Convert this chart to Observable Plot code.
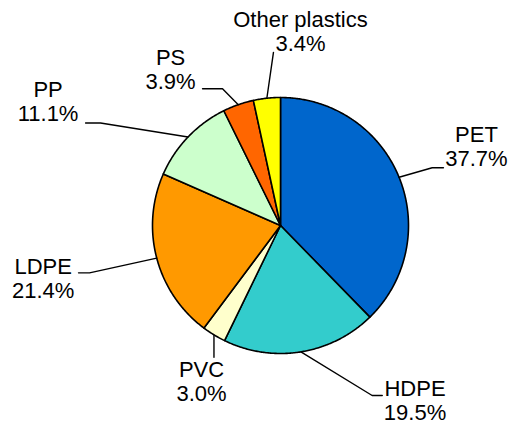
<!DOCTYPE html>
<html>
<head>
<meta charset="utf-8">
<script src="https://cdn.jsdelivr.net/npm/d3@7"></script>
<script src="https://cdn.jsdelivr.net/npm/@observablehq/plot@0.6"></script>
<style>
  html, body { margin: 0; padding: 0; background: #fff; }
  #chart { width: 508px; height: 425px; }
</style>
</head>
<body>
<div id="chart"></div>
<script>
// ---- data ----
const categories = ["PET", "HDPE", "PVC", "LDPE", "PP", "PS", "Other plastics"];
const shares = [37.7, 19.5, 3.0, 21.4, 11.1, 3.9, 3.4];
const pctLabels = ["37.7%", "19.5%", "3.0%", "21.4%", "11.1%", "3.9%", "3.4%"];
const colors = ["#0066CC", "#33CCCC", "#FFFFCC", "#FF9900", "#CCFFCC", "#FF6600", "#FFFF00"];

// ---- label layout (units of pie radius, centre = 0,0, y up) ----
const labelX = [1.531, 1.051, -0.617, -1.854, -1.816, -0.859, 0.156];
const labelBaseY = [0.461, -1.523, -1.373, -0.5625, 0.815, 1.070, 1.367];
const elbows = [[1.185, 0.451], [0.716, -1.328], null, [-1.492, -0.370], [-1.406, 0.801], [-0.453, 1.068], null];
const tailEnds = [[1.273, 0.451], [0.795, -1.328], ["start", -1.029], [-1.578, -0.370], [-1.523, 0.801], [-0.609, 1.068], [-0.055, 1.352]];

// ---- geometry from data ----
const total = d3.sum(shares);
let acc = 0;
const slices = categories.map((name, i) => {
  const a0 = acc / total * 2 * Math.PI;
  acc += shares[i];
  const a1 = acc / total * 2 * Math.PI;
  return {name, a0, a1, mid: (a0 + a1) / 2};
});

const slicePts = [];
slices.forEach(s => {
  slicePts.push({name: s.name, x: 0, y: 0});
  const n = Math.max(4, Math.ceil((s.a1 - s.a0) / (Math.PI / 360)));
  for (let k = 0; k <= n; k++) {
    const a = s.a0 + (s.a1 - s.a0) * k / n;
    slicePts.push({name: s.name, x: Math.sin(a), y: Math.cos(a)});
  }
  slicePts.push({name: s.name, x: 0, y: 0});
});

const leaderPts = [];
slices.forEach((s, i) => {
  const sx = Math.sin(s.mid), sy = Math.cos(s.mid);
  leaderPts.push({name: s.name, x: sx, y: sy});
  if (elbows[i]) leaderPts.push({name: s.name, x: elbows[i][0], y: elbows[i][1]});
  const t = tailEnds[i];
  leaderPts.push({name: s.name, x: t[0] === "start" ? sx : t[0], y: t[1]});
});

const labels = categories.map((name, i) => ({
  text: name + "\n" + pctLabels[i], x: labelX[i], y: labelBaseY[i]
}));

const W = 508, H = 425, R = 128, CX = 280, CY = 225;
const chart = Plot.plot({
  width: W, height: H, margin: 0,
  style: {fontFamily: "Arial, 'Liberation Sans', sans-serif", background: "#fff"},
  x: {domain: [-CX / R, (W - CX) / R], axis: null},
  y: {domain: [-(H - CY) / R, CY / R], axis: null},
  color: {domain: categories, range: colors},
  marks: [
    Plot.line(slicePts, {x: "x", y: "y", z: "name", fill: "name", stroke: "black", strokeWidth: 1.6, strokeLinejoin: "round", curve: "linear-closed"}),
    Plot.line(leaderPts, {x: "x", y: "y", z: "name", stroke: "black", strokeWidth: 1.4}),
    Plot.text(labels, {x: "x", y: "y", text: "text", fontSize: 22, lineHeight: 24 / 22, lineAnchor: "bottom", textAnchor: "middle", fill: "black"})
  ]
});
document.getElementById("chart").appendChild(chart);
</script>
</body>
</html>
